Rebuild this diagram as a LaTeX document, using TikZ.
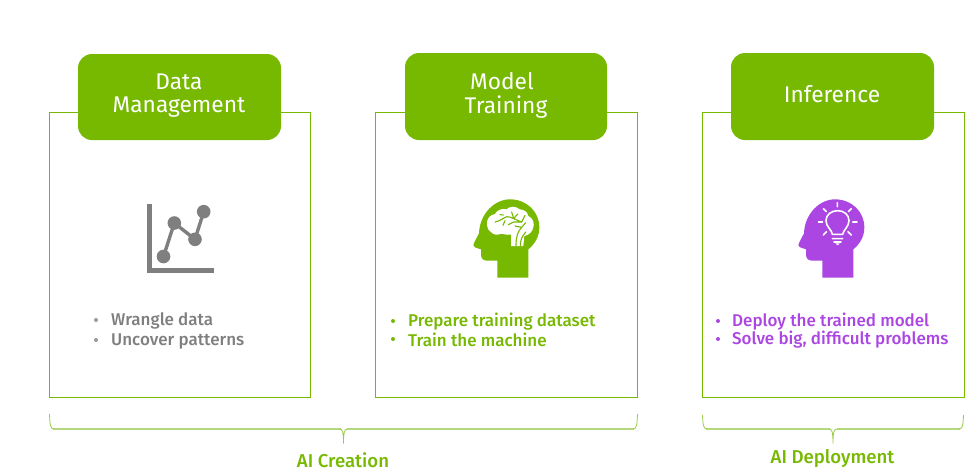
\documentclass[tikz,border=0pt]{standalone}
\usepackage{fontspec}
\setmainfont{Fira Sans}[BoldFont={Fira Sans Medium}]
\definecolor{nvgreen}{HTML}{76B900}
\definecolor{bracegreen}{HTML}{B4D97C}
\definecolor{iconpurple}{HTML}{AC46E2}
\definecolor{icongray}{HTML}{7F7F7F}
\tikzset{
  x=1pt, y=-1pt,
  panel/.style={draw=nvgreen, line width=0.9pt, fill=white},
  header/.style={fill=nvgreen, rounded corners=14pt},
  headtext/.style={text=white, font=\fontsize{22.7}{25}\selectfont, align=center, inner sep=0pt},
  listtext/.style={font=\fontsize{17}{20}\selectfont\bfseries, align=left, anchor=west, inner sep=0pt},
  dot/.style={circle, fill=#1, minimum size=4pt, inner sep=0pt},
  grouplabel/.style={text=nvgreen, font=\fontsize{18.6}{21}\selectfont\bfseries, inner sep=0pt},
  bracemain/.style={draw=bracegreen, line width=1.5pt},
  braceend/.style={draw=nvgreen!75, line width=0.8pt},
}
\newcommand{\headshape}{
  (97,263) -- (97,212) -- (66,212)
  .. controls (54,212) and (48,204) .. (48,194)
  -- (48,178) -- (30,172)
  .. controls (24,169) and (24,163) .. (28,157)
  -- (42,130)
  .. controls (44,72) and (88,28) .. (135,28)
  .. controls (185,28) and (223,65) .. (223,112)
  .. controls (223,142) and (208,163) .. (190,178)
  -- (190,263) -- cycle
}
\begin{document}
\begin{tikzpicture}
\useasboundingbox (0,0) rectangle (977,475);

% panels and their title tabs
\path[panel] (49.5,112.5) rectangle (310.5,397.5);
\path[panel] (375.5,112.5) rectangle (637.5,397.5);
\path[panel] (702.5,112.5) rectangle (964,397.5);
\path[header] (78,54) rectangle (281,140);
\path[header] (405,53) rectangle (607,140);
\path[header] (731,53) rectangle (934,140);
\node[headtext] (titleA1) at (179,81.5) {Data};
\node[headtext] (titleA2) at (179,107) {Management};
\node[headtext] (titleB1) at (502,81.5) {Model};
\node[headtext] (titleB2) at (506,107.5) {Training};
\node[headtext] (titleC) at (832,94) {Inference};

% chart icon
\draw[icongray, line width=5pt] (149.5,204) -- (149.5,270.5) -- (213.5,270.5);
\coordinate (p1) at (163.5,256.5);
\coordinate (p2) at (174.3,223);
\coordinate (p3) at (195,239.3);
\coordinate (p4) at (203.7,211.7);
\draw[icongray, line width=3.4pt] (p1) -- (p2) -- (p3) -- (p4);
\foreach \p in {p1,p2,p3,p4} \fill[icongray] (\p) circle (6.8pt);

% head with brain
\begin{scope}[shift={(465,190)}, x=0.3333pt, y=-0.3333pt]
  \fill[nvgreen] \headshape;
  \fill[white] (66,104)
    .. controls (64,88) and (74,74) .. (90,72)
    .. controls (96,60) and (112,54) .. (124,58)
    .. controls (134,48) and (154,48) .. (164,58)
    .. controls (176,58) and (188,66) .. (190,78)
    .. controls (204,84) and (209,100) .. (205,112)
    .. controls (203,126) and (190,136) .. (178,138)
    -- (175,168) -- (138,168) -- (138,134)
    .. controls (124,136) and (112,130) .. (106,132)
    .. controls (96,136) and (84,134) .. (78,126)
    .. controls (70,122) and (66,114) .. (66,104) -- cycle;
  \draw[nvgreen, line width=1.1pt, line cap=round]
    (90,96) .. controls (104,94) and (114,84) .. (126,80)
    .. controls (132,80) and (140,82) .. (146,86)
    (115,75) -- (105,74)
    (120,92) -- (114,106)
    (140,66) -- (146,86) (158,72) -- (146,86)
    (146,86) -- (170,96) -- (180,76)
    (130,104) -- (146,96) -- (170,96)
    (153,167) .. controls (153,140) and (158,125) .. (170,112)
    (170,112) -- (182,98) (170,112) -- (150,108)
    (166,167) .. controls (166,152) and (170,140) .. (182,126);
\end{scope}

% head with light bulb
\begin{scope}[shift={(790,190)}, x=0.3333pt, y=-0.3333pt]
  \fill[iconpurple] \headshape;
  \draw[white, line width=1.6pt, line join=round]
    (127,133) .. controls (126,120) and (108,110) .. (108,92)
    .. controls (108,74) and (124,62) .. (143,62)
    .. controls (162,62) and (177,74) .. (177,92)
    .. controls (177,110) and (160,120) .. (158,133) -- cycle;
  \draw[white, line width=1.6pt, line cap=round]
    (127,146) -- (158,146)
    (132,156) -- (153,156)
    (142,38) -- (142,50)
    (100,56) -- (109,65)
    (184,56) -- (175,65)
    (85,96) -- (98,96)
    (188,96) -- (201,96)
    (100,135) -- (110,125)
    (184,135) -- (174,125);
  \fill[white] (136,160) -- (149,160) -- (144,165) -- (141,165) -- cycle;
\end{scope}

% bullet lists
\node[dot=icongray!80] (a1) at (96,320) {};
\node[dot=icongray!80] (a2) at (96,340) {};
\node[listtext, text=icongray] (la1) at (111,321) {Wrangle data};
\node[listtext, text=icongray] (la2) at (111,341) {Uncover patterns};
\node[dot=nvgreen] (b1) at (393,321) {};
\node[dot=nvgreen] (b2) at (393,339) {};
\node[listtext, text=nvgreen] (lb1) at (408,322) {Prepare training dataset};
\node[listtext, text=nvgreen] (lb2) at (408,340) {Train the machine};
\node[dot=iconpurple] (c1) at (718,321) {};
\node[dot=iconpurple] (c2) at (718,339) {};
\node[listtext, text=iconpurple] (lc1) at (732,322) {Deploy the trained model};
\node[listtext, text=iconpurple] (lc2) at (732,340) {Solve big, difficult problems};

% group braces
\coordinate (crL) at (49.5,414);
\coordinate (crR) at (637.5,414);
\coordinate (crT) at (343.5,443.5);
\draw[bracemain] (53,429) -- (340.5,429) (346.5,429) -- (634,429);
\draw[braceend] (crL) .. controls (50,424) and (50,429) .. (54,429);
\draw[braceend] (crR) .. controls (637,424) and (637,429) .. (633,429);
\draw[braceend] (339.5,429) .. controls (342.5,429) and (343.5,432) .. (crT) .. controls (343.5,432) and (344.5,429) .. (347.5,429);

\coordinate (deL) at (702.5,415);
\coordinate (deR) at (963.5,415);
\coordinate (deT) at (833,443.5);
\draw[bracemain] (706,429) -- (829.5,429) (836.5,429) -- (960,429);
\draw[braceend] (deL) .. controls (703,424) and (703,429) .. (707,429);
\draw[braceend] (deR) .. controls (963,424) and (963,429) .. (959,429);
\draw[braceend] (829,429) .. controls (832,429) and (833,432) .. (deT) .. controls (833,432) and (834,429) .. (837,429);

\node[grouplabel] (creation) at (343,460) {AI Creation};
\node[grouplabel] (deployment) at (832.5,458.5) {AI Deployment};
\end{tikzpicture}
\end{document}
